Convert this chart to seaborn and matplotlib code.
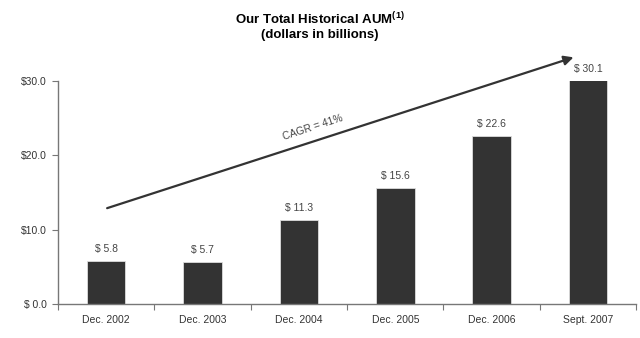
import matplotlib
matplotlib.use("Agg")
import matplotlib.pyplot as plt
import seaborn as sns
import pandas as pd

categories = ["Dec. 2002", "Dec. 2003", "Dec. 2004", "Dec. 2005", "Dec. 2006", "Sept. 2007"]
aum = [5.8, 5.7, 11.3, 15.6, 22.6, 30.1]
bar_labels = ["$ 5.8", "$ 5.7", "$ 11.3", "$ 15.6", "$ 22.6", "$ 30.1"]
ytick_values = [0, 10, 20, 30]
ytick_labels = ["$ 0.0", "$10.0", "$20.0", "$30.0"]
cagr_text = "CAGR = 41%"

sns.set_theme(style="white")
plt.rcParams["font.family"] = ["Liberation Sans", "DejaVu Sans"]
plt.rcParams["mathtext.fontset"] = "custom"
plt.rcParams["mathtext.rm"] = "Liberation Sans"
plt.rcParams["mathtext.bf"] = "Liberation Sans:bold"
plt.rcParams["mathtext.default"] = "bf"

df = pd.DataFrame({"period": categories, "aum": aum})

fig = plt.figure(figsize=(6.4, 3.38), dpi=100)
ax = fig.add_axes([0.0906, 0.1006, 0.9034, 0.6594])

sns.barplot(data=df, x="period", y="aum", color="#333333", width=0.4,
            edgecolor="#dddddd", linewidth=0.6, saturation=1, ax=ax)

ax.set_xlim(-0.5, len(categories) - 0.5)
ax.set_ylim(0, 30)
ax.set_xlabel("")
ax.set_ylabel("")

ax.set_yticks(ytick_values)
ax.set_yticklabels(ytick_labels, fontsize=7.5, color="#333333")
ax.set_xticks(range(len(categories)))
ax.set_xticklabels(categories, fontsize=7.5, color="#333333")
ax.tick_params(axis="x", length=0, pad=8)
ax.tick_params(axis="y", length=4, width=0.8, color="#777777", left=True, pad=4)
ax.set_xticks([i + 0.5 for i in range(-1, len(categories))], minor=True)
ax.tick_params(axis="x", which="minor", length=4, width=0.8, color="#777777", bottom=True)

for s in ["top", "right"]:
    ax.spines[s].set_visible(False)
for s in ["left", "bottom"]:
    ax.spines[s].set_color("#777777")
    ax.spines[s].set_linewidth(1.0)

for i, (v, lab) in enumerate(zip(aum, bar_labels)):
    ax.text(i, v + 0.9, lab, ha="center", va="bottom", fontsize=7.5, color="#444444")

ax.annotate("", xy=(4.85, 33.2), xytext=(0.01, 12.9), xycoords="data",
            arrowprops=dict(arrowstyle="-|>", color="#333333", lw=1.6,
                            mutation_scale=14, shrinkA=0, shrinkB=0),
            annotation_clip=False)
ax.text(2.14, 23.8, cagr_text, rotation=18, ha="center", va="center",
        fontsize=7.5, color="#444444")

fig.text(0.5, 0.945, "Our Total Historical AUM$^{(1)}$", ha="center", va="center",
         fontsize=9.5, fontweight="bold", color="black")
fig.text(0.5, 0.895, "(dollars in billions)", ha="center", va="center",
         fontsize=9.5, fontweight="bold", color="black")

fig.savefig("out.png", dpi=100)
